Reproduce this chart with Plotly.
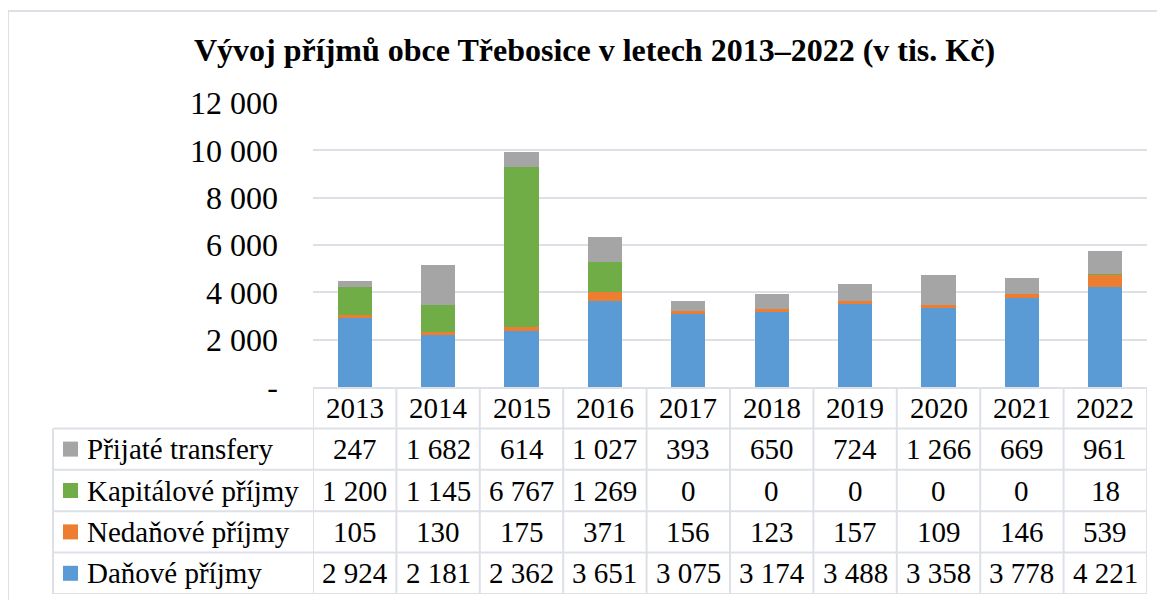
import plotly.graph_objects as go

years = ["2013", "2014", "2015", "2016", "2017", "2018", "2019", "2020", "2021", "2022"]
danove = [2924, 2181, 2362, 3651, 3075, 3174, 3488, 3358, 3778, 4221]
nedanove = [105, 130, 175, 371, 156, 123, 157, 109, 146, 539]
kapitalove = [1200, 1145, 6767, 1269, 0, 0, 0, 0, 0, 18]
transfery = [247, 1682, 614, 1027, 393, 650, 724, 1266, 669, 961]
y_ticks = [0, 2000, 4000, 6000, 8000, 10000, 12000]

title = "Vývoj příjmů obce Třebosice v letech 2013–2022 (v tis. Kč)"
FONT = "Liberation Serif, Times New Roman, serif"
GRID = "#dde1e7"
W, H = 1165, 600
OFF = 8  # page body margin shifts the figure by 8px

# bottom -> top in the stack
series = [
    ("Daňové příjmy", danove, "#5b9bd5"),
    ("Nedaňové příjmy", nedanove, "#ed7d31"),
    ("Kapitálové příjmy", kapitalove, "#70ad47"),
    ("Přijaté transfery", transfery, "#a5a5a5"),
]


def fmt(v):
    return f"{v:,}".replace(",", " ")


def px(xp):
    return (xp - OFF) / W


def py(yp):
    return 1 - (yp - OFF) / H


fig = go.Figure()
for name, vals, col in series:
    fig.add_trace(go.Bar(x=years, y=vals, name=name, marker_color=col,
                         marker_line_width=0, showlegend=False))
# empty trace so the table axis exists
fig.add_trace(go.Scatter(x=[], y=[], xaxis="x", yaxis="y2", showlegend=False))

ann = []
shapes = []

# table: row 0 = header, rows 1..4 = series (top to bottom as in Excel)
table_rows = list(reversed(series))
for i, y in enumerate(years):
    ann.append(dict(x=i, xref="x", y=0, yref="y2", text=y, showarrow=False,
                    font=dict(size=29)))
for r, (name, vals, col) in enumerate(table_rows, start=1):
    for i, v in enumerate(vals):
        ann.append(dict(x=i, xref="x", y=r, yref="y2", text=fmt(v), showarrow=False,
                        font=dict(size=29)))
    ann.append(dict(x=px(85), xref="paper", xanchor="left", y=r, yref="y2", text=name,
                    showarrow=False, font=dict(size=29)))
    shapes.append(dict(type="rect", xref="paper", xsizemode="pixel", xanchor=px(70.5),
                       x0=-7.5, x1=7.5, yref="y2", ysizemode="pixel", yanchor=r,
                       y0=-7.5, y1=7.5, fillcolor=col, line_width=0))

line = dict(color=GRID, width=2)
n = len(years)
# vertical lines of the table
for k in range(n + 1):
    shapes.append(dict(type="line", xref="x", yref="y2", x0=k - 0.5, x1=k - 0.5,
                       y0=-0.5, y1=4.5, line=line))
shapes.append(dict(type="line", xref="paper", yref="y2", x0=px(53), x1=px(53),
                   y0=0.5, y1=4.5, line=line))
# horizontal lines of the table
for r in range(1, 6):
    shapes.append(dict(type="line", xref="paper", yref="y2", x0=px(53), x1=px(1147),
                       y0=r - 0.5, y1=r - 0.5, line=line))
# chart border
shapes.append(dict(type="line", xref="paper", yref="paper", x0=px(8), x1=1,
                   y0=py(11), y1=py(11), line=line))
shapes.append(dict(type="line", xref="paper", yref="paper", x0=px(8), x1=px(8),
                   y0=py(11), y1=0, line=line))

ann.append(dict(x=px(594), y=py(50), xref="paper", yref="paper", text="<b>" + title + "</b>",
                showarrow=False, yanchor="middle", font=dict(size=32)))

fig.update_layout(
    width=W, height=H,
    margin=dict(l=0, r=0, t=0, b=0, pad=0, autoexpand=False),
    paper_bgcolor="white", plot_bgcolor="white",
    font=dict(family=FONT, color="black"),
    barmode="stack", bargap=0.59,
    xaxis=dict(domain=[px(313), px(1147)], type="category", showticklabels=False,
               showgrid=False, showline=True, linecolor=GRID, linewidth=2,
               range=[-0.5, n - 0.5], automargin=False),
    yaxis=dict(domain=[py(387), py(103)], range=[0, 12000], tickvals=y_ticks,
               ticktext=[fmt(v) if v else "-" for v in y_ticks],
               showgrid=True, gridcolor=GRID, gridwidth=2, zeroline=False,
               tickfont=dict(size=32), ticklabelstandoff=34, automargin=False),
    yaxis2=dict(domain=[py(594), py(387)], range=[4.5, -0.5], visible=False,
                anchor="x", automargin=False),
    annotations=ann,
    shapes=shapes,
)

fig.write_html("out.html")
